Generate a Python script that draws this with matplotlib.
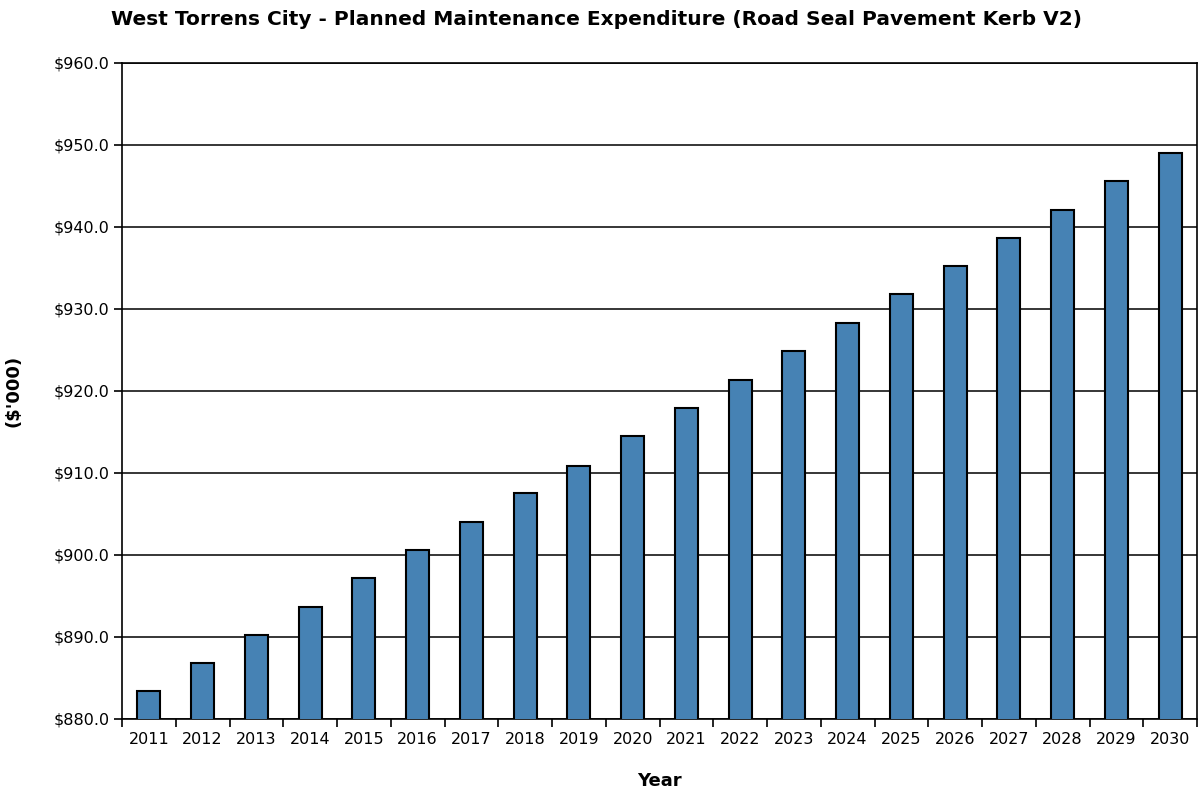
import numpy as np
import matplotlib.pyplot as plt
from matplotlib.ticker import FuncFormatter, MultipleLocator

years = [str(y) for y in range(2011, 2031)]
spend = [883.4, 886.8, 890.3, 893.7, 897.2, 900.6, 904.0, 907.5, 910.9, 914.5,
         917.9, 921.4, 924.9, 928.3, 931.8, 935.2, 938.7, 942.1, 945.6, 949.0]

out_file = 'out.png'

fig = plt.figure(figsize=(12.01, 7.94), dpi=100)
ax = fig.add_axes([122/1201, 1 - 719/794, (1197 - 122)/1201, (719 - 63)/794])

x = np.arange(len(years))
ax.bar(x, spend, width=0.43, bottom=0, color='#4682b4', edgecolor='black',
       linewidth=1.5, zorder=3)

ax.set_xlim(-0.5, len(years) - 0.5)
ax.set_ylim(880, 960)
ax.yaxis.set_major_locator(MultipleLocator(10))
ax.yaxis.set_major_formatter(FuncFormatter(lambda v, p: '${:.1f}'.format(v)))
ax.grid(axis='y', color='black', linewidth=1.1, zorder=1)

# ticks between categories, labels centered under bars
ax.set_xticks(np.arange(len(years) + 1) - 0.5)
ax.set_xticklabels([])
ax.set_xticks(x, minor=True)
ax.set_xticklabels(years, minor=True)
ax.tick_params(axis='x', which='minor', length=0, pad=9, labelsize=11.5)
ax.tick_params(axis='x', which='major', length=6, width=1.2, direction='out')
ax.tick_params(axis='y', length=6, width=1.2, labelsize=11.5, pad=3)

for s in ax.spines.values():
    s.set_linewidth(1.2)
    s.set_color('black')

ax.set_xlabel('Year', fontsize=13, fontweight='bold', labelpad=18)
ax.set_ylabel("($'000)", fontsize=13, fontweight='bold')
ax.yaxis.set_label_coords(-0.093, 0.5)
fig.suptitle('West Torrens City - Planned Maintenance Expenditure (Road Seal Pavement Kerb V2)',
             x=0.497, y=0.988, fontsize=14.5, fontweight='bold')

fig.savefig(out_file, dpi=100)
